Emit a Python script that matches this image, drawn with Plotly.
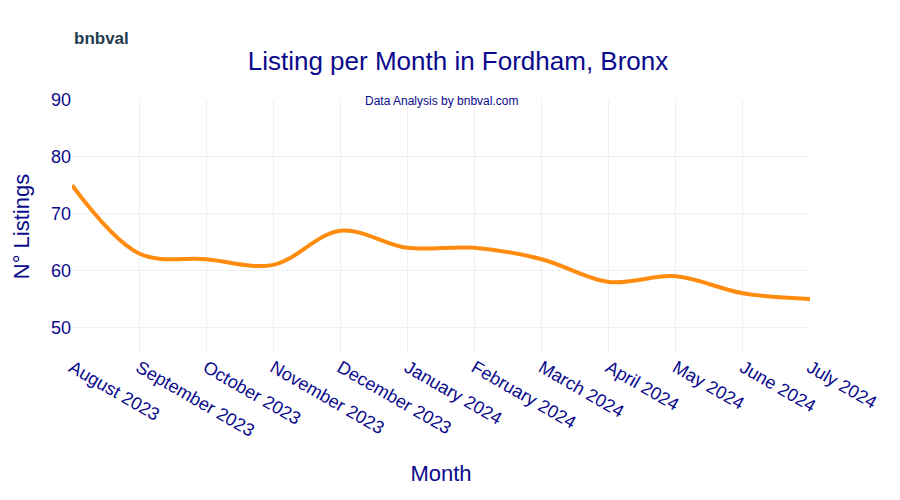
import plotly.graph_objects as go

months = ["August 2023","September 2023","October 2023","November 2023","December 2023","January 2024",
          "February 2024","March 2024","April 2024","May 2024","June 2024","July 2024"]
listings = [75, 63, 62, 61, 67, 64, 64, 62, 58, 59, 56, 55]

navy = "#0a0a8c"
fig = go.Figure(go.Scatter(x=months, y=listings, mode="lines",
                           line=dict(color="#ff8c0f", width=4, shape="spline")))
fig.update_layout(
    width=900, height=500, template="plotly_white",
    font=dict(family="Liberation Sans, Arial", color=navy),
    title=dict(text="Listing per Month in Fordham, Bronx", x=0.5, y=0.895, xanchor="center",
               yanchor="middle", font=dict(size=26, color=navy)),
    margin=dict(l=64, r=98, t=92, b=155),
    xaxis=dict(title=dict(text="Month", font=dict(size=22), standoff=25), tickangle=30,
               tickfont=dict(size=18), showgrid=True, gridcolor="#eef0f6", automargin=False),
    yaxis=dict(title=dict(text="N° Listings", font=dict(size=22)), range=[45.5, 90],
               tickvals=[50,60,70,80,90], tickfont=dict(size=18), gridcolor="#eef0f6",
               zeroline=False, automargin=False),
    annotations=[
        dict(text="Data Analysis by bnbval.com", x=0.5, y=1.03, xref="paper", yref="paper",
             showarrow=False, font=dict(size=12, color=navy)),
        dict(text="<b>bnbval</b>", x=0.0, y=1.29, xref="paper", yref="paper", xanchor="left",
             showarrow=False, font=dict(size=17, color="#1f3b4d")),
    ],
)
fig.write_html("out.html")
